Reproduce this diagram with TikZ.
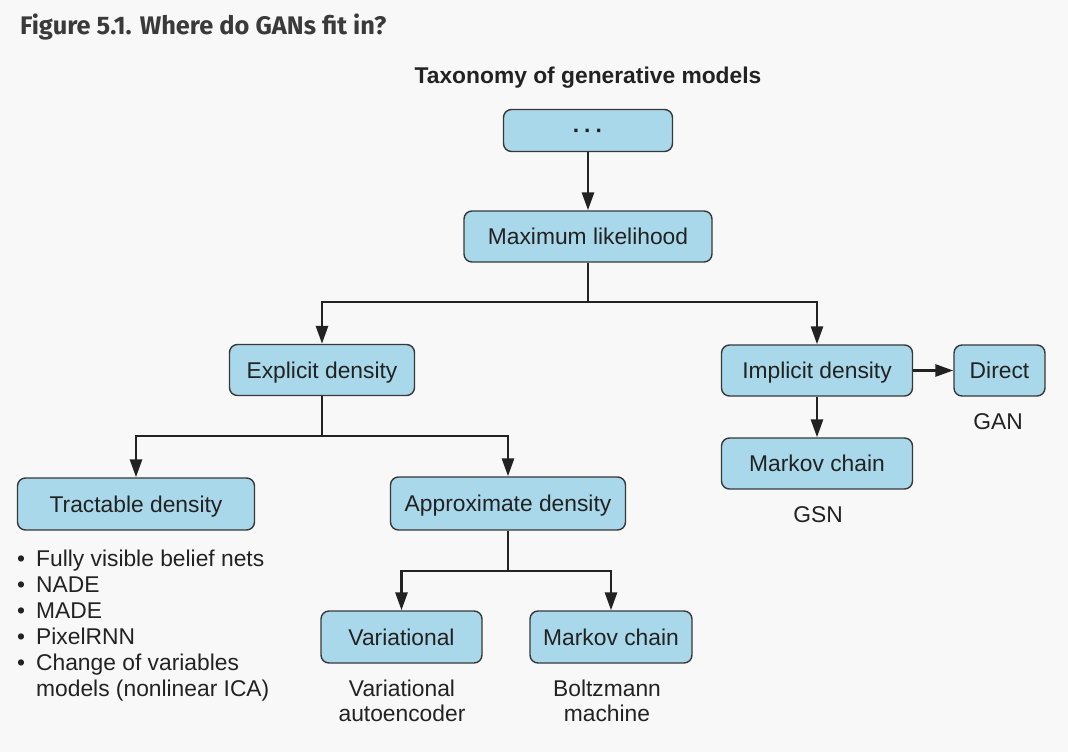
\documentclass[tikz,border=0pt]{standalone}
\usepackage{fontspec}
\setmainfont{Liberation Sans}
\newfontfamily\titlefont{Fira Sans}
\usetikzlibrary{arrows.meta}
\definecolor{boxblue}{HTML}{A8D8EA}
\definecolor{bggray}{HTML}{F8F8F8}
\definecolor{ink}{HTML}{222222}
\definecolor{titlegray}{HTML}{3A3A3A}

\begin{document}
\begin{tikzpicture}[x=1pt,y=-1pt,
  box/.style={draw=ink!90,line width=1.4pt,fill=boxblue,rounded corners=8pt,
    minimum height=51pt,inner sep=0pt,text height=16.3pt,text depth=0pt,
    text=ink,font=\fontsize{22.8}{26}\selectfont},
  lbl/.style={text=ink,font=\fontsize{22.8}{25}\selectfont,align=center,inner sep=0pt},
  line/.style={draw=ink,line width=2.8pt},
  link/.style={line,-{Triangle[length=18pt,width=12pt]}}]
  \fill[bggray] (0,0) rectangle (1068,752);
  \useasboundingbox (0,0) rectangle (1068,752);
  \node[anchor=base west,inner sep=0pt,text=titlegray,font=\titlefont\bfseries\fontsize{25.4}{28}\selectfont] (title) at (20,35) {Figure 5.1. Where do GANs fit in?};
  \node[anchor=base,inner sep=0pt,text=ink,font=\bfseries\fontsize{22.8}{26}\selectfont] (tax) at (588,83) {Taxonomy of generative models};
  \node[box,minimum width=169pt,minimum height=42pt] (top) at (588,130.5) {\textbf{·\,·\,·}};
  \node[box,minimum width=248pt] (ml) at (588,236.5) {Maximum likelihood};
  \node[box,minimum width=185pt] (expl) at (322,370) {Explicit density};
  \node[box,minimum width=191pt] (impl) at (817,370.5) {Implicit density};
  \node[box,minimum width=91pt] (direct) at (999.5,370.5) {Direct};
  \node[box,minimum width=191pt] (chainR) at (817,463.5) {Markov chain};
  \node[box,minimum width=237pt,minimum height=52pt] (tract) at (136,504) {Tractable density};
  \node[box,minimum width=235pt,minimum height=53pt] (approx) at (508,503.5) {Approximate density};
  \node[box,minimum width=161pt,minimum height=52pt] (vari) at (401.5,637) {Variational};
  \node[box,minimum width=162pt,minimum height=52pt] (chainB) at (611,637) {Markov chain};
  \node[lbl,anchor=base] (gan) at (998,429) {GAN};
  \node[lbl,anchor=base] (gsn) at (818,522) {GSN};
  \node[lbl,anchor=north] (vae) at (402,680) {Variational\\autoencoder};
  \node[lbl,anchor=north] (boltz) at (607,680) {Boltzmann\\machine};
  \node[lbl,anchor=north west,align=left,font=\fontsize{22.8}{26}\selectfont] (list) at (17,548) {%
    \begin{tabular}{@{}l@{\hspace{11pt}}l@{}}
      • & Fully visible belief nets\\
      • & NADE\\
      • & MADE\\
      • & PixelRNN\\
      • & Change of variables\\
        & models (nonlinear ICA)
    \end{tabular}};
  \coordinate (j1) at (ml |- 0,302);
  \coordinate (j2) at (expl |- 0,436);
  \coordinate (j3) at (approx |- 0,571);
  \draw[link] (top) -- (ml);
  \draw[line] (ml) -- (j1);
  \draw[link] (j1) -| (expl);
  \draw[link] (j1) -| (impl);
  \draw[link] (impl) -- (direct);
  \draw[link] (impl) -- (chainR);
  \draw[line] (expl) -- (j2);
  \draw[link] (j2) -| (tract);
  \draw[link] (j2) -| (approx);
  \draw[line] (approx) -- (j3);
  \draw[link] (j3) -| (vari);
  \draw[link] (j3) -| (chainB);
\end{tikzpicture}
\end{document}
